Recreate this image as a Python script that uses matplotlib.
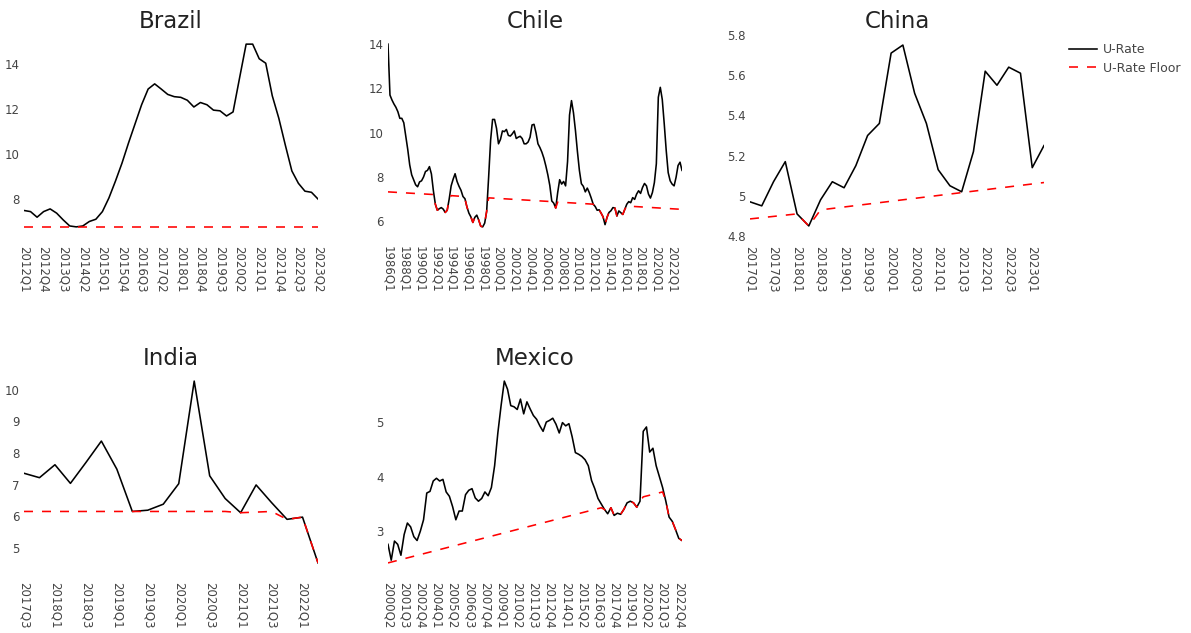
import numpy as np
import matplotlib.pyplot as plt
from matplotlib.lines import Line2D
from matplotlib.ticker import FuncFormatter


def quarters(year, q, n):
    # list of quarter labels like 2012Q1, 2012Q2, ...
    out = []
    for i in range(n):
        out.append(f"{year}Q{q}")
        q += 1
        if q > 4:
            q = 1
            year += 1
    return out


# Brazil
brazil_q = quarters(2012, 1, 46)
brazil_urate = [7.49, 7.44, 7.19, 7.44, 7.56, 7.37, 7.07, 6.8, 6.76, 6.8,
                7.0, 7.1, 7.44, 8.05, 8.8, 9.6, 10.5, 11.35, 12.2, 12.9,
                13.13, 12.9, 12.66, 12.56, 12.53, 12.4, 12.1, 12.3, 12.2, 11.96,
                11.93, 11.7, 11.88, 13.4, 14.9, 14.9, 14.25, 14.05, 12.6, 11.6,
                10.4, 9.25, 8.7, 8.35, 8.3, 8.0]
brazil_floor_q = ["2012Q1", "2023Q2"]
brazil_floor_v = [6.76, 6.76]

# Chile
chile_q = quarters(1986, 1, 150)
chile_urate = [14.0, 11.7, 11.48, 11.3, 11.15, 10.95, 10.65, 10.65, 10.45, 9.85,
               9.25, 8.55, 8.1, 7.88, 7.65, 7.56, 7.78, 7.83, 8.0, 8.25,
               8.3, 8.47, 8.14, 7.38, 6.77, 6.5, 6.57, 6.62, 6.55, 6.4,
               6.5, 7.0, 7.6, 7.9, 8.15, 7.8, 7.58, 7.4, 7.12, 7.02,
               6.65, 6.37, 6.2, 5.95, 6.18, 6.28, 6.05, 5.78, 5.75, 5.92,
               6.45, 7.99, 9.66, 10.6, 10.6, 10.2, 9.5, 9.7, 10.08, 10.05,
               10.15, 9.88, 9.85, 9.95, 10.08, 9.74, 9.8, 9.84, 9.74, 9.5,
               9.5, 9.58, 9.8, 10.35, 10.38, 10.0, 9.5, 9.33, 9.12, 8.85,
               8.5, 8.1, 7.62, 6.92, 6.82, 6.6, 7.3, 7.88, 7.68, 7.8,
               7.6, 8.7, 10.8, 11.45, 10.9, 10.1, 9.15, 8.3, 7.7, 7.58,
               7.33, 7.5, 7.3, 7.05, 6.77, 6.67, 6.5, 6.52, 6.37, 6.2,
               5.85, 6.18, 6.4, 6.48, 6.62, 6.6, 6.24, 6.47, 6.39, 6.31,
               6.54, 6.77, 6.89, 6.84, 7.07, 6.99, 7.23, 7.38, 7.26, 7.53,
               7.71, 7.6, 7.23, 7.05, 7.3, 7.75, 8.6, 11.6, 12.05, 11.5,
               10.4, 9.2, 8.2, 7.83, 7.68, 7.6, 7.99, 8.52, 8.67, 8.3]
chile_floor_q = ["1986Q1", "1991Q4",
                 "1992Q1", "1992Q2", "1992Q3", "1992Q4", "1993Q1", "1993Q2", "1993Q3", "1993Q4",
                 "1994Q1", "1995Q2",
                 "1995Q3", "1995Q4", "1996Q1", "1996Q2", "1996Q3", "1996Q4", "1997Q1",
                 "1997Q2", "1997Q3", "1997Q4", "1998Q1", "1998Q2", "1998Q3",
                 "1998Q4", "2006Q4", "2007Q1", "2007Q2", "2007Q3", "2011Q4",
                 "2012Q1", "2012Q2", "2012Q3", "2012Q4", "2013Q1", "2013Q2", "2013Q3", "2013Q4",
                 "2014Q1", "2014Q2", "2014Q3", "2014Q4", "2015Q1", "2015Q2", "2015Q3", "2015Q4",
                 "2016Q1", "2016Q2", "2023Q2"]
chile_floor_v = [7.33, 7.21,
                 6.77, 6.5, 6.57, 6.62, 6.55, 6.4, 6.5, 7.0,
                 7.16, 7.13,
                 7.12, 7.02, 6.65, 6.37, 6.2, 5.95, 6.18,
                 6.28, 6.05, 5.78, 5.75, 5.92, 6.45,
                 7.06, 6.89, 6.82, 6.6, 6.87, 6.78,
                 6.77, 6.67, 6.5, 6.52, 6.37, 6.2, 5.85, 6.18,
                 6.4, 6.48, 6.62, 6.6, 6.24, 6.47, 6.39, 6.31,
                 6.54, 6.69, 6.54]

# China
china_q = quarters(2017, 1, 26)
china_urate = [4.97, 4.95, 5.07, 5.17, 4.91, 4.85, 4.98, 5.07, 5.04, 5.15,
               5.30, 5.36, 5.71, 5.75, 5.51, 5.36, 5.13, 5.05, 5.02, 5.22,
               5.62, 5.55, 5.64, 5.61, 5.14, 5.25]
china_floor_q = ["2017Q1", "2018Q1", "2018Q2", "2018Q3", "2023Q2"]
china_floor_v = [4.885, 4.91, 4.85, 4.93, 5.066]

# India
india_q = quarters(2017, 3, 20)
india_urate = [7.36, 7.22, 7.63, 7.04, 7.70, 8.38, 7.49, 6.15, 6.19, 6.38,
               7.03, 10.28, 7.28, 6.56, 6.11, 6.99, 6.43, 5.90, 5.97, 4.52]
india_floor_q = ["2017Q3", "2020Q4", "2021Q1", "2021Q3", "2021Q4", "2022Q1", "2022Q2"]
india_floor_v = [6.15, 6.15, 6.11, 6.15, 5.90, 5.97, 4.52]

# Mexico
mexico_q = quarters(2000, 2, 92)
mexico_urate = [2.76, 2.47, 2.82, 2.76, 2.56, 2.94, 3.15, 3.08, 2.9, 2.83,
                3.0, 3.21, 3.70, 3.73, 3.92, 3.97, 3.92, 3.95, 3.72, 3.64,
                3.45, 3.21, 3.37, 3.37, 3.67, 3.75, 3.78, 3.61, 3.55, 3.6,
                3.72, 3.65, 3.8, 4.2, 4.8, 5.3, 5.75, 5.6, 5.3, 5.28,
                5.23, 5.42, 5.15, 5.37, 5.24, 5.12, 5.05, 4.93, 4.83, 5.0,
                5.03, 5.07, 4.96, 4.8, 4.99, 4.93, 4.97, 4.73, 4.44, 4.41,
                4.37, 4.31, 4.2, 3.93, 3.78, 3.6, 3.5, 3.4, 3.32, 3.43,
                3.29, 3.33, 3.31, 3.4, 3.52, 3.55, 3.52, 3.44, 3.55, 4.83,
                4.91, 4.45, 4.52, 4.2, 4.0, 3.8, 3.55, 3.26, 3.18, 3.03,
                2.87, 2.83]
mexico_floor_q = ["2000Q2", "2016Q4",
                  "2017Q1", "2017Q2", "2017Q3", "2017Q4", "2018Q1", "2018Q2",
                  "2018Q3", "2018Q4", "2019Q1", "2019Q2", "2019Q3", "2019Q4",
                  "2020Q1", "2021Q3",
                  "2021Q4", "2022Q1", "2022Q2", "2022Q3", "2022Q4", "2023Q1"]
mexico_floor_v = [2.42, 3.43,
                  3.4, 3.32, 3.43, 3.29, 3.33, 3.31,
                  3.4, 3.52, 3.55, 3.52, 3.44, 3.55,
                  3.63, 3.72,
                  3.55, 3.26, 3.18, 3.03, 2.87, 2.83]

W, H = 1191, 633
LW = 1.15
DASH = (6.48 / LW, 6.48 / LW)


def draw(ax, title, cats, urate, floor_q, floor_v, step, yticks):
    x = np.arange(len(cats))
    ax.plot(x, urate, color="black", lw=LW)
    fx = [cats.index(q) for q in floor_q]
    ax.plot(fx, floor_v, color="red", lw=LW, dashes=DASH)
    ax.set_xlim(0, len(cats) - 1)
    ax.margins(y=0.05)
    ax.set_xticks(x[::step])
    ax.set_xticklabels(cats[::step], rotation=-90, va="top", ha="center")
    ax.set_yticks(yticks)
    ax.yaxis.set_major_formatter(FuncFormatter(lambda v, p: f"{v:g}"))
    for s in ax.spines.values():
        s.set_visible(False)
    ax.tick_params(length=0, labelsize=8.5, labelcolor="#444")
    ax.tick_params(axis="x", pad=7)
    ax.tick_params(axis="y", pad=3)
    ax.set_title(title, fontsize=16.5, color="#222", pad=5)


fig = plt.figure(figsize=(W / 100, H / 100), dpi=100)

cols = [24, 388, 750]
col_w = 294
rows = [(35, 236), (372, 572)]


def make_ax(col, row):
    top, bot = rows[row]
    return fig.add_axes([cols[col] / W, 1 - bot / H, col_w / W, (bot - top) / H])


draw(make_ax(0, 0), "Brazil", brazil_q, brazil_urate, brazil_floor_q, brazil_floor_v, 3, [8, 10, 12, 14])
draw(make_ax(1, 0), "Chile", chile_q, chile_urate, chile_floor_q, chile_floor_v, 8, [6, 8, 10, 12, 14])
draw(make_ax(2, 0), "China", china_q, china_urate, china_floor_q, china_floor_v, 2,
     [4.8, 5.0, 5.2, 5.4, 5.6, 5.8])
draw(make_ax(0, 1), "India", india_q, india_urate, india_floor_q, india_floor_v, 2, [5, 6, 7, 8, 9, 10])
draw(make_ax(1, 1), "Mexico", mexico_q, mexico_urate, mexico_floor_q, mexico_floor_v, 5, [3, 4, 5])

handles = [Line2D([], [], color="black", lw=LW),
           Line2D([], [], color="red", lw=LW, dashes=DASH)]
leg = fig.legend(handles, ["U-Rate", "U-Rate Floor"], loc="upper left",
                 bbox_to_anchor=(1069 / W, 1 - 43 / H), frameon=False, fontsize=9,
                 handlelength=2.2, handletextpad=0.5, labelspacing=0.45,
                 borderaxespad=0, borderpad=0)
for t in leg.get_texts():
    t.set_color("#444")

fig.savefig("out.png", dpi=100)
